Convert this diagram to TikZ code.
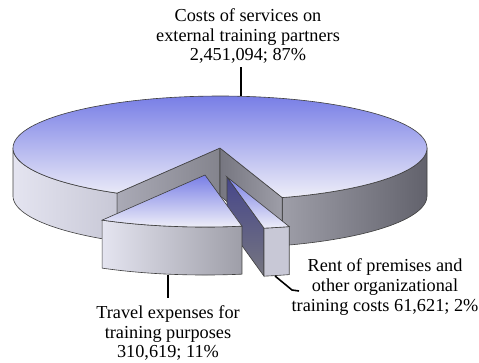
\documentclass[tikz,border=0pt]{standalone}
\usepackage{fontspec}
\setmainfont{Liberation Serif}
\definecolor{pieblue}{RGB}{120,126,230}
\definecolor{piewhite}{RGB}{238,238,248}
\definecolor{sidelight}{RGB}{228,228,240}
\definecolor{sidemid}{RGB}{200,200,214}
\definecolor{sidegrey}{RGB}{158,158,168}
\definecolor{sidedark}{RGB}{98,98,108}
\definecolor{wallgrey}{RGB}{170,170,182}
\definecolor{walldark}{RGB}{118,118,128}
\definecolor{rentwall}{RGB}{70,70,138}
\newcommand{\prx}{207}
\newcommand{\pry}{52}
\newcommand{\pdep}{48}

\begin{document}
\begin{tikzpicture}[x=0.02cm, y=-0.02cm,
    edge/.style={draw=black!75, line width=0.35pt},
    topface/.style={edge, top color=pieblue, middle color=pieblue!38!piewhite, bottom color=piewhite},
    leader/.style={draw, line width=0.9pt},
    lbl/.style={align=center, inner sep=0pt, font=\fontsize{10.4}{11.2}\selectfont}]
    \useasboundingbox (0,0) rectangle (479,362);

    % main slice, centre (220,148)
    \coordinate (mc) at (220,148);
    \coordinate (ml) at ({220+\prx*cos(119.8)},{148+\pry*sin(119.8)});
    \coordinate (mr) at ({220+\prx*cos(72.5)},{148+\pry*sin(72.5)});
    \path[edge, left color=sidelight, right color=sidemid]
        plot[domain=119.8:180, samples=30] ({220+\prx*cos(\x)},{148+\pry*sin(\x)})
        -- plot[domain=180:119.8, samples=30] ({220+\prx*cos(\x)},{148+\pdep+\pry*sin(\x)}) -- cycle;
    \path[edge, left color=sidegrey, right color=sidedark]
        plot[domain=0:72.5, samples=30] ({220+\prx*cos(\x)},{148+\pry*sin(\x)})
        -- plot[domain=72.5:0, samples=30] ({220+\prx*cos(\x)},{148+\pdep+\pry*sin(\x)}) -- cycle;
    \path[edge, left color=wallgrey, right color=walldark!90]
        (mc) -- (ml) -- ++(0,\pdep) -- ([yshift=-\pdep*0.02cm]mc) -- cycle;
    \path[edge, left color=walldark, right color=sidegrey]
        (mc) -- (mr) -- ++(0,\pdep) -- ([yshift=-\pdep*0.02cm]mc) -- cycle;
    \path[topface] (mc) -- plot[domain=119.8:432.5, samples=120] ({220+\prx*cos(\x)},{148+\pry*sin(\x)}) -- cycle;

    % rent slice, pulled out to (227,177)
    \coordinate (rc) at (227,177);
    \coordinate (rl) at ({227+\prx*cos(79.7)},{177+\pry*sin(79.7)});
    \path[edge, top color=rentwall, bottom color=walldark]
        (rc) -- (rl) -- ++(0,\pdep) -- ([yshift=-\pdep*0.02cm]rc) -- cycle;
    \path[edge, fill=sidemid]
        plot[domain=72.5:79.7, samples=8] ({227+\prx*cos(\x)},{177+\pry*sin(\x)})
        -- plot[domain=79.7:72.5, samples=8] ({227+\prx*cos(\x)},{177+\pdep+\pry*sin(\x)}) -- cycle;
    \path[topface] (rc) -- plot[domain=72.5:79.7, samples=8] ({227+\prx*cos(\x)},{177+\pry*sin(\x)}) -- cycle;

    % travel slice, pulled out to (205,175)
    \coordinate (tc) at (205,175);
    \path[edge, left color=sidelight, right color=sidegrey]
        plot[domain=79.7:119.8, samples=30] ({205+\prx*cos(\x)},{175+\pry*sin(\x)})
        -- plot[domain=119.8:79.7, samples=30] ({205+\prx*cos(\x)},{175+\pdep+\pry*sin(\x)}) -- cycle;
    \path[topface] (tc) -- plot[domain=79.7:119.8, samples=30] ({205+\prx*cos(\x)},{175+\pry*sin(\x)}) -- cycle;

    % labels
    \node[lbl] (costlbl) at (248,36) {Costs of services on\\external training partners\\2,451,094; 87\%};
    \node[lbl] (travlbl) at (168,333) {Travel expenses for\\training purposes\\310,619; 11\%};
    \node[lbl] (rentlbl) at (385,287) {Rent of premises and\\other organizational\\training costs 61,621; 2\%};

    \coordinate (costpt) at (241,96);
    \coordinate (travpt) at (168,275);
    \coordinate (rentpt) at (275,276);
    \coordinate (rentknee) at (292,290);
    \coordinate (rentend) at (299,291);
    \draw[leader, shorten >=2pt] (costpt) -- (costpt |- costlbl.south);
    \draw[leader, shorten >=4pt] (travpt) -- (travpt |- travlbl.north);
    \draw[leader] (rentpt) -- (rentknee) -- (rentend);
\end{tikzpicture}
\end{document}
